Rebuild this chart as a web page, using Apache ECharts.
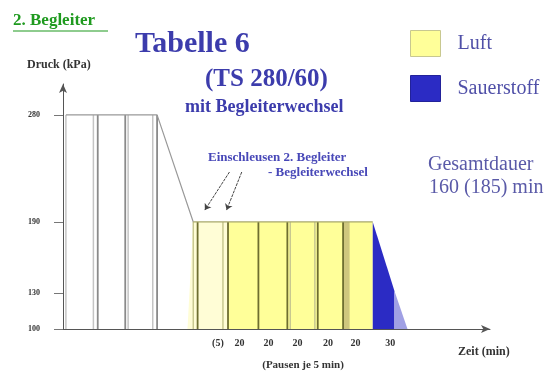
<!DOCTYPE html>
<html>
<head>
<meta charset="utf-8">
<script src="https://cdn.jsdelivr.net/npm/echarts@6/dist/echarts.min.js"></script>
<style>
  html, body { margin: 0; padding: 0; background: #fff; }
  #chart { width: 551px; height: 371px; }
</style>
</head>
<body>
<div id="chart"></div>
<script>
// Pressure levels (kPa) marked on the vertical axis
const pressureTicks = [100, 130, 190, 280];

// Phase durations printed under the time axis (plan minutes)
const durationPos = [107, 122, 142, 162, 183, 202, 226];
const durationText = ['(5)', '20', '20', '20', '20', '20', '30'];

// Pressure profile: stage at 280 kPa, then descent to 190 kPa
const profile280 = [[2, 280], [65, 280], [90, 190]];

// Air phases at 190 kPa
const airPause = [[86, 100], [90, 190], [114, 190], [114, 100]];
const airMain = [[114, 100], [114, 190], [214, 190], [214, 100]];
const airBand = [[193.5, 100], [193.5, 190], [198, 190], [198, 100]];

// Oxygen decompression from 190 kPa back to 100 kPa
const oxygen = [[214, 190], [229, 132], [229, 100], [214, 100]];
const oxygenTail = [[229, 132], [238, 100], [229, 100]];

// Segment dividers (time) on each stage
const div280Dark = [24, 43, 65];
const div280Light = [2, 21, 45, 62];
const div190Dark = [93, 114, 135, 155, 176, 193.5];
const div190Light = [90, 110.5, 157, 174];

// Annotation arrows: [from, to]
const noteArrows = [
  [[115, 232], [98, 200]],
  [[123.5, 232], [113, 200]]
];

const serif = 'Liberation Serif, Times New Roman, serif';

function polySeries(name, polys, fill, stroke) {
  return {
    type: 'custom',
    name: name,
    coordinateSystem: 'cartesian2d',
    silent: true,
    itemStyle: { color: fill, borderColor: stroke, borderWidth: 1 },
    data: polys.map((p, i) => [p[0][0], p[0][1], i]),
    renderItem: function (params, api) {
      const pts = polys[params.dataIndex].map(p => api.coord(p));
      return {
        type: 'polygon',
        shape: { points: pts },
        style: { fill: fill, stroke: stroke || 'none', lineWidth: stroke ? 1 : 0 }
      };
    }
  };
}

function dividerSeries(xs, level, color, width) {
  return {
    type: 'custom',
    coordinateSystem: 'cartesian2d',
    silent: true,
    data: xs.map(x => [x, level]),
    renderItem: function (params, api) {
      const x = api.value(0);
      const a = api.coord([x, 100]);
      const b = api.coord([x, level]);
      return {
        type: 'line',
        shape: { x1: a[0], y1: a[1], x2: b[0], y2: b[1] },
        style: { stroke: color, lineWidth: width }
      };
    }
  };
}

const chart = echarts.init(document.getElementById('chart'));

chart.setOption({
  animation: false,
  backgroundColor: '#ffffff',
  grid: { left: 63, right: 61, top: 84, bottom: 42 },
  legend: {
    orient: 'vertical',
    left: 405,
    top: 25,
    itemWidth: 30,
    itemHeight: 26,
    itemGap: 18,
    data: [
      { name: 'Luft', icon: 'rect', itemStyle: { color: '#ffff99', borderColor: '#c8c890', borderWidth: 1 } },
      { name: 'Sauerstoff', icon: 'rect', itemStyle: { color: '#2b2bc4', borderColor: '#22229a', borderWidth: 1 } }
    ],
    textStyle: { fontFamily: serif, fontSize: 20, color: '#5050a8', padding: [0, 0, 0, 12] },
    selectedMode: false
  },
  xAxis: {
    type: 'value',
    min: 0,
    max: 295,
    splitLine: { show: false },
    axisLine: {
      show: true, onZero: false,
      symbol: ['none', 'arrow'], symbolSize: [6, 9],
      lineStyle: { color: '#555', width: 1 }
    },
    axisTick: { show: false },
    axisLabel: {
      customValues: durationPos,
      formatter: v => durationText[durationPos.indexOf(v)],
      margin: 9,
      fontFamily: serif, fontWeight: 'bold', fontSize: 10, color: '#333'
    }
  },
  yAxis: {
    type: 'value',
    min: 100,
    max: 306,
    splitLine: { show: false },
    axisLine: {
      show: true, onZero: false,
      symbol: ['none', 'arrow'], symbolSize: [6, 9],
      lineStyle: { color: '#555', width: 1 }
    },
    axisTick: { show: true, customValues: pressureTicks, length: 9, lineStyle: { color: '#777' } },
    axisLabel: {
      customValues: pressureTicks,
      margin: 23,
      fontFamily: serif, fontWeight: 'bold', fontSize: 8, color: '#333'
    }
  },
  graphic: [
    { type: 'text', x: 13, y: 21, style: { text: '2. Begleiter', font: 'bold 17px ' + serif, fill: '#1f9a1f', verticalAlign: 'middle' } },
    { type: 'line', shape: { x1: 13, y1: 31, x2: 108, y2: 31 }, style: { stroke: '#1f9a1f', lineWidth: 1.2 } },
    { type: 'text', x: 135, y: 44, style: { text: 'Tabelle 6', font: 'bold 30px ' + serif, fill: '#3c3cac', verticalAlign: 'middle' } },
    { type: 'text', x: 205, y: 80, style: { text: '(TS 280/60)', font: 'bold 25px ' + serif, fill: '#3c3cac', verticalAlign: 'middle' } },
    { type: 'text', x: 185, y: 107, style: { text: 'mit Begleiterwechsel', font: 'bold 18px ' + serif, fill: '#3c3cac', verticalAlign: 'middle' } },
    { type: 'text', x: 208, y: 158, style: { text: 'Einschleusen 2. Begleiter', font: 'bold 13px ' + serif, fill: '#4848b8', verticalAlign: 'middle' } },
    { type: 'text', x: 268, y: 173, style: { text: '- Begleiterwechsel', font: 'bold 13px ' + serif, fill: '#4848b8', verticalAlign: 'middle' } },
    { type: 'text', x: 428, y: 165, style: { text: 'Gesamtdauer', font: '20px ' + serif, fill: '#5a5aa8', verticalAlign: 'middle' } },
    { type: 'text', x: 429, y: 188, style: { text: '160 (185) min', font: '20px ' + serif, fill: '#5a5aa8', verticalAlign: 'middle' } },
    { type: 'text', x: 27, y: 65, style: { text: 'Druck (kPa)', font: 'bold 12px ' + serif, fill: '#333', verticalAlign: 'middle' } },
    { type: 'text', x: 458, y: 352, style: { text: 'Zeit (min)', font: 'bold 12px ' + serif, fill: '#333', verticalAlign: 'middle' } },
    { type: 'text', x: 303, y: 365, style: { text: '(Pausen je 5 min)', font: 'bold 11px ' + serif, fill: '#333', align: 'center', verticalAlign: 'middle' } }
  ],
  series: [
    polySeries('Luft', [airPause], '#fffdd6', null),
    polySeries('Luft', [airMain], '#ffff99', null),
    polySeries('Luft', [airBand], '#cfc77e', null),
    polySeries('Sauerstoff', [oxygen], '#2b2bc4', null),
    polySeries('Sauerstoff', [oxygenTail], '#a0a0e4', null),
    {
      type: 'line',
      silent: true,
      symbol: 'none',
      data: profile280,
      lineStyle: { color: '#999', width: 1.2 }
    },
    {
      type: 'line',
      silent: true,
      symbol: 'none',
      data: [[90, 190], [214, 190]],
      lineStyle: { color: '#a8a86a', width: 1.2 }
    },
    dividerSeries(div280Light, 280, '#c4c4c4', 1.5),
    dividerSeries(div280Dark, 280, '#8a8a8a', 1.8),
    dividerSeries(div190Light, 190, '#c8c890', 1.5),
    dividerSeries(div190Dark, 190, '#6e6e30', 1.8),
    {
      type: 'lines',
      coordinateSystem: 'cartesian2d',
      silent: true,
      symbol: ['none', 'arrow'],
      symbolSize: 6,
      lineStyle: { color: '#444', width: 1, type: [3, 1], opacity: 1 },
      data: noteArrows.map(a => ({ coords: a }))
    }
  ]
});
</script>
</body>
</html>
